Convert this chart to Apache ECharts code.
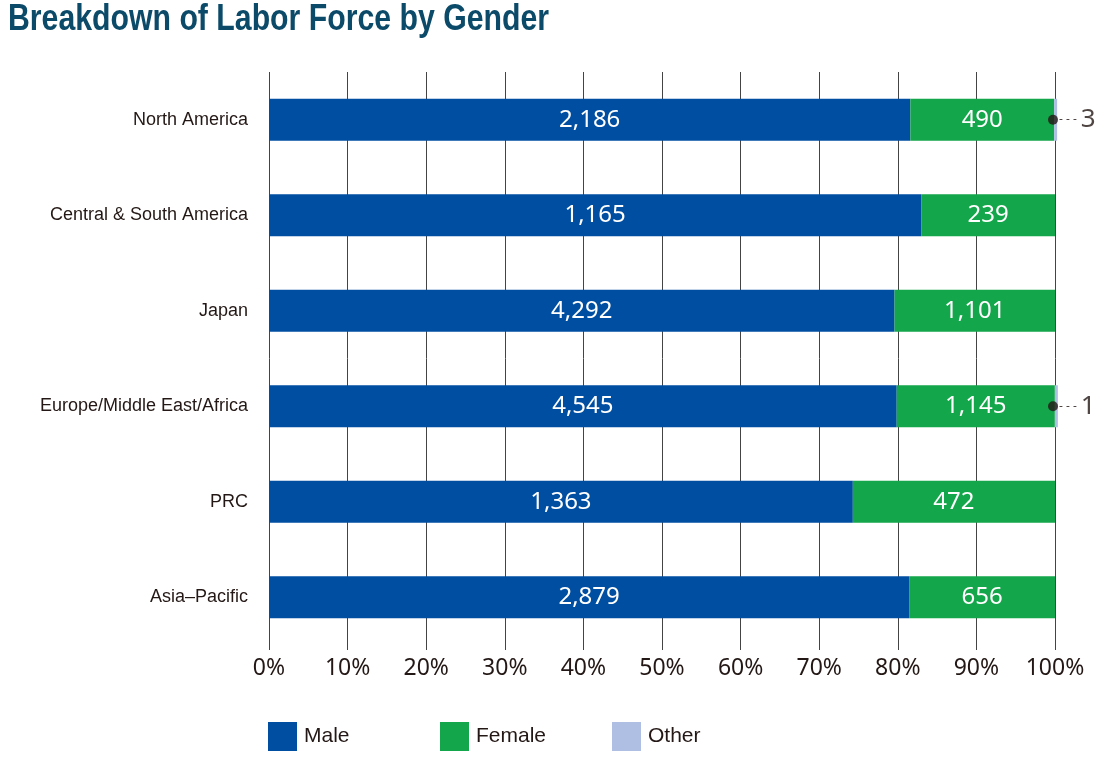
<!DOCTYPE html>
<html>
<head>
<meta charset="utf-8">
<script src="https://cdn.jsdelivr.net/npm/echarts@6/dist/echarts.min.js"></script>
<style>
    html, body { margin: 0; padding: 0; background: #fff; }
    #labor-gender { width: 1099px; height: 757px; }
</style>
</head>
<body>
<div id="labor-gender"></div>
<script>
// head counts by region
let regions = ['North America', 'Central & South America', 'Japan', 'Europe/Middle East/Africa', 'PRC', 'Asia\u2013Pacific'];
let male = [2186, 1165, 4292, 4545, 1363, 2879];
let female = [490, 239, 1101, 1145, 472, 656];
let other = [3, 0, 0, 1, 0, 0];
let tickLabels = ['0%', '10%', '20%', '30%', '40%', '50%', '60%', '70%', '80%', '90%', '100%'];

let totals = regions.map((r, i) => male[i] + female[i] + other[i]);
function share(arr) {
    return arr.map((v, i) => v > 0 ? {value: v / totals[i] * 100, count: v} : '-');
}
let otherMarks = [];
regions.forEach(function (r, i) {
    if (other[i] > 0) otherMarks.push({value: [100, r], count: other[i]});
});

let chartDom = document.getElementById('labor-gender');
let myChart = echarts.init(chartDom);
let sans = '"Liberation Sans", Arial, sans-serif';
let round = '"Noto Sans", "Open Sans", sans-serif';

function legendAt(name, left) {
    return {
        data: [name],
        left: left,
        top: 722,
        padding: 0,
        itemWidth: 29,
        itemHeight: 29,
        itemGap: 0,
        icon: 'rect',
        selectedMode: false,
        textStyle: {fontFamily: sans, fontSize: 21, color: '#231815', padding: [2, 0, 0, 2]}
    };
}

let option = {
    animation: false,
    // title drawn as graphic text so it can be squeezed like the condensed original
    graphic: [{
        type: 'text',
        x: 8,
        y: 2,
        scaleX: 0.84,
        style: {
            text: 'Breakdown of Labor Force by Gender',
            font: 'bold 36px "Liberation Sans", Arial, sans-serif',
            fill: '#0b4a68',
            verticalAlign: 'top'
        }
    }],
    legend: [legendAt('Male', 268), legendAt('Female', 440), legendAt('Other', 612)],
    grid: {
        top: 72,
        left: 269,
        right: 44,
        bottom: 112
    },
    xAxis: {
        type: 'value',
        min: 0,
        max: 100,
        interval: 10,
        axisLine: {show: false},
        axisTick: {show: true, length: 5, lineStyle: {color: '#444'}},
        splitLine: {show: true, lineStyle: {color: '#444', width: 1}},
        axisLabel: {
            margin: 12,
            fontFamily: round,
            fontSize: 23,
            color: '#231815',
            formatter: function (value) {
                return tickLabels[Math.round(value / 10)];
            }
        }
    },
    yAxis: {
        type: 'category',
        inverse: true,
        data: regions,
        axisLine: {show: false},
        axisTick: {show: false},
        axisLabel: {margin: 21, fontFamily: sans, fontSize: 18, color: '#231815'}
    },
    series: [
        {
            name: 'Male',
            type: 'bar',
            stack: 'total',
            barWidth: 42,
            itemStyle: {color: '#004ea1'},
            label: {
                show: true,
                position: 'inside',
                color: '#fff',
                fontFamily: round,
                fontSize: 24,
                formatter: p => p.data.count.toLocaleString('en-US')
            },
            data: share(male)
        },
        {
            name: 'Female',
            type: 'bar',
            stack: 'total',
            barWidth: 42,
            itemStyle: {color: '#13a64a'},
            label: {
                show: true,
                position: 'inside',
                color: '#fff',
                fontFamily: round,
                fontSize: 24,
                formatter: p => p.data.count.toLocaleString('en-US')
            },
            data: share(female)
        },
        {
            name: 'Other',
            type: 'bar',
            stack: 'total',
            barWidth: 42,
            barMinHeight: 3,
            clip: false,
            itemStyle: {color: '#aebfe3'},
            data: share(other)
        },
        {
            name: 'other-note',
            type: 'scatter',
            symbol: 'circle',
            symbolSize: 10,
            symbolOffset: [-2, 0],
            itemStyle: {color: '#231815'},
            z: 5,
            label: {
                show: true,
                position: 'right',
                distance: 1,
                formatter: p => '{d|- - -}{v|' + p.data.count + '}',
                rich: {
                    d: {fontSize: 12, color: '#231815', fontFamily: round, padding: [0, 4, 0, 0]},
                    v: {fontSize: 26, color: '#231815', fontFamily: round}
                }
            },
            data: otherMarks
        }
    ]
};
option && myChart.setOption(option);
window.addEventListener('resize', function () {
    myChart.resize();
});
</script>
</body>
</html>
